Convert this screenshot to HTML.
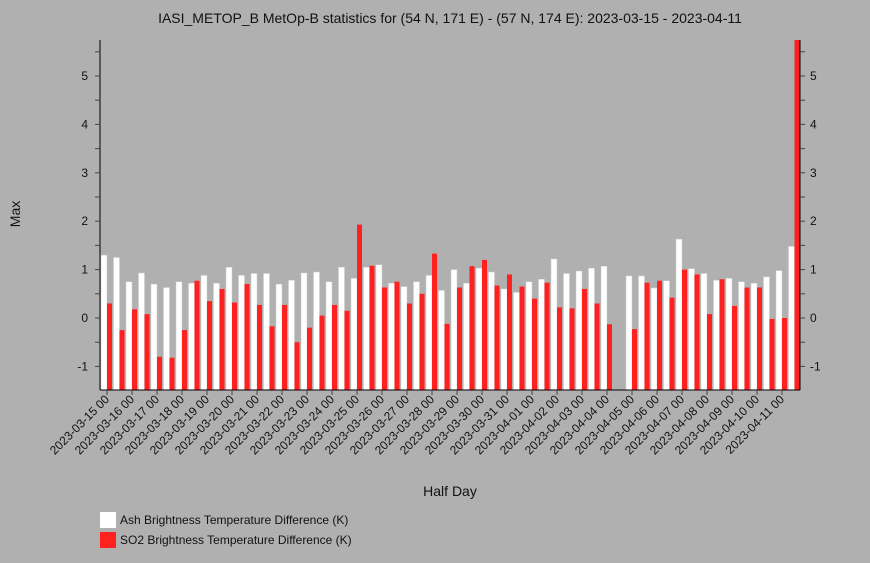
<!DOCTYPE html>
<html><head><meta charset="utf-8"><style>
html,body{margin:0;padding:0;background:#b0b0b0;font-family:"Liberation Sans",sans-serif;width:870px;height:563px;overflow:hidden}
svg{display:block}
svg text{font-family:"Liberation Sans",sans-serif;fill:#111}
</style></head><body>
<svg id="c" width="870" height="563" xmlns="http://www.w3.org/2000/svg">
<rect width="870" height="563" fill="#b0b0b0"/>
<text x="450" y="23" font-size="14" text-anchor="middle">IASI_METOP_B MetOp-B statistics for (54 N, 171 E) - (57 N, 174 E): 2023-03-15 - 2023-04-11</text>
<text transform="translate(20,214) rotate(-90)" font-size="14" text-anchor="middle">Max</text>
<text x="450" y="496" font-size="14" text-anchor="middle">Half Day</text>
<g id="bars"></g>
<g id="axes"></g>
<g>
<rect x="100" y="512" width="16" height="16" fill="#fff"/>
<text x="120" y="524" font-size="12">Ash Brightness Temperature Difference (K)</text>
<rect x="100" y="532" width="16" height="16" fill="#ff2020"/>
<text x="120" y="544" font-size="12">SO2 Brightness Temperature Difference (K)</text>
</g>
</svg>
<script>
const ash=[1.3,1.25,0.75,0.93,0.70,0.63,0.75,0.72,0.88,0.72,1.05,0.88,0.92,0.92,0.70,0.78,0.93,0.95,0.75,1.05,0.82,1.05,1.10,0.72,0.65,0.75,0.88,0.57,1.00,0.72,1.03,0.95,0.60,0.53,0.75,0.80,1.22,0.92,0.97,1.03,1.07,null,0.87,0.87,0.62,0.77,1.63,1.02,0.92,0.78,0.82,0.75,0.72,0.85,0.98,1.48];
const so2=[0.3,-0.25,0.18,0.08,-0.80,-0.82,-0.25,0.77,0.35,0.60,0.32,0.70,0.27,-0.17,0.27,-0.50,-0.20,0.05,0.27,0.15,1.93,1.08,0.63,0.75,0.30,0.50,1.33,-0.12,0.63,1.07,1.20,0.67,0.90,0.65,0.40,0.73,0.22,0.20,0.60,0.30,-0.13,null,-0.23,0.73,0.77,0.42,1.00,0.90,0.08,0.80,0.25,0.63,0.63,-0.02,0.00,5.75];
const days=["2023-03-15","2023-03-16","2023-03-17","2023-03-18","2023-03-19","2023-03-20","2023-03-21","2023-03-22","2023-03-23","2023-03-24","2023-03-25","2023-03-26","2023-03-27","2023-03-28","2023-03-29","2023-03-30","2023-03-31","2023-04-01","2023-04-02","2023-04-03","2023-04-04","2023-04-05","2023-04-06","2023-04-07","2023-04-08","2023-04-09","2023-04-10","2023-04-11"];
const yTicks=[-1,0,1,2,3,4,5];
const NS="http://www.w3.org/2000/svg";
const L=100,R=800,T=40,B=390;
const y=v=>318-v*48.4;
const x=i=>107+12.5*i;
function mk(t,a,p){const e=document.createElementNS(NS,t);for(const k in a)e.setAttribute(k,a[k]);p.appendChild(e);return e;}
const bars=document.getElementById('bars'),axes=document.getElementById('axes');
ash.forEach((v,i)=>{if(v==null)return;const yy=Math.max(T,y(v));
const r=mk('rect',{x:x(i)-6,y:yy,width:6,height:B-yy,fill:'#fff',stroke:'#ccc','stroke-width':0.5},bars);

});
so2.forEach((v,i)=>{if(v==null)return;const yy=Math.max(T,y(v));
const r=mk('rect',{x:x(i),y:yy,width:5,height:B-yy,fill:'#ff2020'},bars);

});
mk('line',{x1:L,y1:T,x2:L,y2:B,stroke:'#000'},axes);
mk('line',{x1:R,y1:T,x2:R,y2:B,stroke:'#000'},axes);
mk('line',{x1:L,y1:B,x2:R,y2:B,stroke:'#000'},axes);
for(let v=-1.5;v<=5.5;v+=0.5){const yy=y(v);if(yy<T||yy>B)continue;
mk('line',{x1:L-5,y1:yy,x2:L,y2:yy,stroke:'#444'},axes);mk('line',{x1:R,y1:yy,x2:R+5,y2:yy,stroke:'#444'},axes);}
yTicks.forEach(v=>{const a=mk('text',{x:88,y:y(v)+4,'font-size':12,'text-anchor':'end'},axes);a.textContent=v;


const b=mk('text',{x:810,y:y(v)+4,'font-size':12},axes);b.textContent=v;

});
days.forEach((d,i)=>{const xx=x(2*i);mk('line',{x1:xx,y1:B,x2:xx,y2:B+5,stroke:'#444'},axes);
const t=mk('text',{transform:`translate(${xx+3},${B+10}) rotate(-45)`,'font-size':12,'text-anchor':'end'},axes);t.textContent=d+' 00';

});
</script>
</body></html>
